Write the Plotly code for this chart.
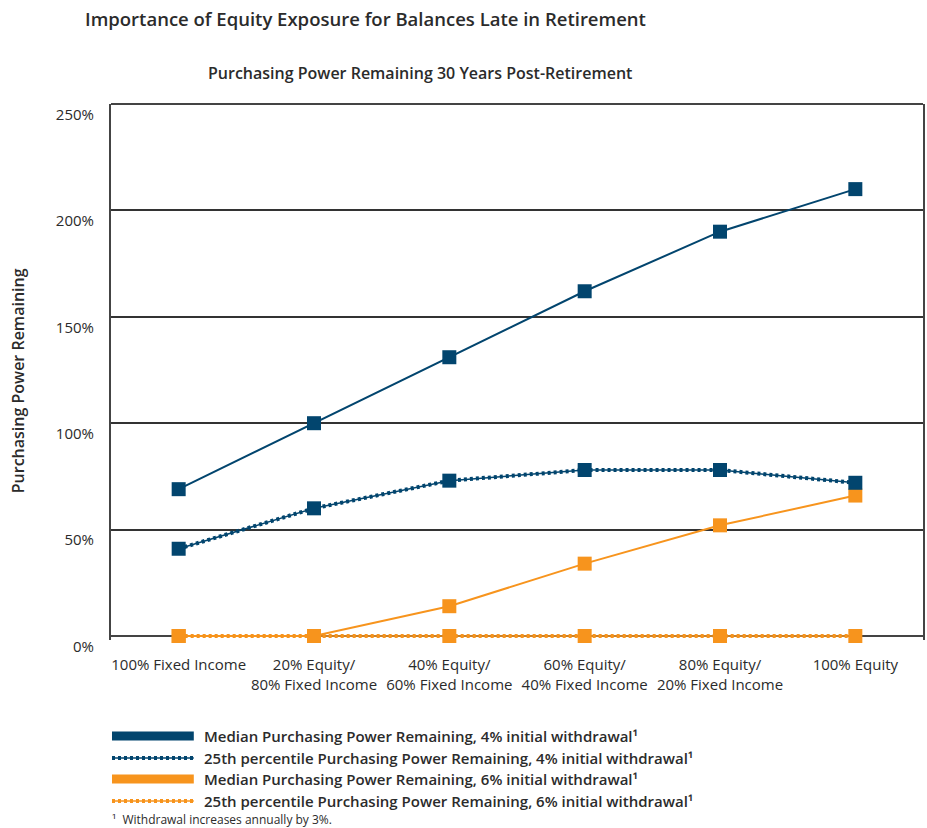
import plotly.graph_objects as go

# Asset-allocation categories along the x axis
categories = [
    "100% Fixed Income",
    "20% Equity/<br>80% Fixed Income",
    "40% Equity/<br>60% Fixed Income",
    "60% Equity/<br>40% Fixed Income",
    "80% Equity/<br>20% Fixed Income",
    "100% Equity",
]

# Purchasing power remaining after 30 years (%)
median_4 = [69, 100, 131, 162, 190, 210]
p25_4 = [41, 60, 73, 78, 78, 72]
median_6 = [0, 0, 14, 34, 52, 66]
p25_6 = [0, 0, 0, 0, 0, 0]

y_ticks = [0, 50, 100, 150, 200, 250]

legend_labels = [
    "Median Purchasing Power Remaining, 4% initial withdrawal¹",
    "25th percentile Purchasing Power Remaining, 4% initial withdrawal¹",
    "Median Purchasing Power Remaining, 6% initial withdrawal¹",
    "25th percentile Purchasing Power Remaining, 6% initial withdrawal¹",
]
footnote = "¹  Withdrawal increases annually by 3%."

NAVY = "#02456E"
ORANGE = "#F7941D"
TEXT = "#2b2b2b"
AXIS = "#444"
FONT = "Open Sans"
BEADS = "3px,3px"

W, H = 927, 828
# plot frame in pixels; the zero line sits at Y0, the plot area runs a few
# pixels lower so the series drawn along zero are not clipped in half
L, R, T, Y0, B = 111, 925, 104, 636, 640
Y_MAX = 250
Y_MIN = -(B - Y0) * Y_MAX / (Y0 - T)


def px(x):
    return (x - L) / (R - L)


def py(y):
    return (B - y) / (B - T)


xs = list(range(len(categories)))

fig = go.Figure()


def add_series(vals, color, beaded):
    if beaded:
        # thin core line with a row of beads on top of it
        fig.add_trace(go.Scatter(
            x=xs, y=vals, mode="lines", line=dict(color=color, width=1.5),
            cliponaxis=False, showlegend=False, hoverinfo="skip"))
        fig.add_trace(go.Scatter(
            x=xs, y=vals, mode="lines+markers",
            line=dict(color=color, width=4, dash=BEADS),
            marker=dict(symbol="square", size=14, color=color),
            cliponaxis=False, showlegend=False, hoverinfo="skip"))
    else:
        fig.add_trace(go.Scatter(
            x=xs, y=vals, mode="lines+markers",
            line=dict(color=color, width=2),
            marker=dict(symbol="square", size=14, color=color),
            cliponaxis=False, showlegend=False, hoverinfo="skip"))


add_series(median_6, ORANGE, False)
add_series(p25_6, ORANGE, True)
add_series(median_4, NAVY, False)
add_series(p25_4, NAVY, True)

fig.update_xaxes(
    range=[-0.5, 5.5], tickmode="array", tickvals=xs, ticktext=categories,
    showgrid=False, zeroline=False, showline=False, ticks="",
    ticklabelstandoff=14, layer="below traces",
    tickfont=dict(family=FONT, size=15, color=TEXT),
)
fig.update_yaxes(
    range=[Y_MIN, Y_MAX], tickmode="array", tickvals=y_ticks,
    ticktext=[f"{v}%" for v in y_ticks],
    showgrid=True, gridcolor="#333", gridwidth=1.5,
    zeroline=True, zerolinecolor=AXIS, zerolinewidth=2,
    showline=True, linecolor=AXIS, linewidth=2, mirror=True, ticks="",
    ticklabelposition="outside bottom", ticklabelstandoff=12,
    layer="below traces",
    tickfont=dict(family=FONT, size=15, color=TEXT),
)

annotations = [
    dict(text="Importance of Equity Exposure for Balances Late in Retirement",
         x=px(83), y=py(18), xanchor="left", yanchor="middle",
         font=dict(family=FONT, size=18.5, color=TEXT, weight=600)),
    dict(text="Purchasing Power Remaining 30 Years Post-Retirement",
         x=px(421), y=py(73), xanchor="center", yanchor="middle",
         font=dict(family=FONT, size=16, color=TEXT, weight=600)),
    dict(text="Purchasing Power Remaining", textangle=-90,
         x=px(18), y=py(381), xanchor="center", yanchor="middle",
         font=dict(family=FONT, size=16, color=TEXT, weight=600)),
]

# top edge of the frame
shapes = [dict(type="line", xref="paper", yref="paper", x0=0, x1=1, y0=1, y1=1,
               line=dict(color=AXIS, width=2), layer="below")]

legend_rows = [736, 758, 779, 801]
legend_styles = [(NAVY, False), (NAVY, True), (ORANGE, False), (ORANGE, True)]
for yrow, label, (color, beaded) in zip(legend_rows, legend_labels, legend_styles):
    line_kw = dict(type="line", xref="paper", yref="paper",
                   x0=px(112), x1=px(194), y0=py(yrow), y1=py(yrow))
    if beaded:
        shapes.append(dict(line_kw, line=dict(color=color, width=1.5)))
        shapes.append(dict(line_kw, line=dict(color=color, width=4, dash=BEADS)))
    else:
        shapes.append(dict(line_kw, line=dict(color=color, width=9)))
    annotations.append(dict(text=label, x=px(202), y=py(yrow),
                            xanchor="left", yanchor="middle",
                            font=dict(family=FONT, size=15, color=TEXT, weight=600)))
annotations.append(dict(text=footnote, x=px(110), y=py(819),
                        xanchor="left", yanchor="middle",
                        font=dict(family=FONT, size=12, color=TEXT)))

for a in annotations:
    a.update(xref="paper", yref="paper", showarrow=False)

fig.update_layout(
    width=W, height=H,
    margin=dict(l=L, r=W - R, t=T, b=H - B),
    plot_bgcolor="white", paper_bgcolor="white",
    annotations=annotations, shapes=shapes, showlegend=False,
)

fig.write_html("out.html")
